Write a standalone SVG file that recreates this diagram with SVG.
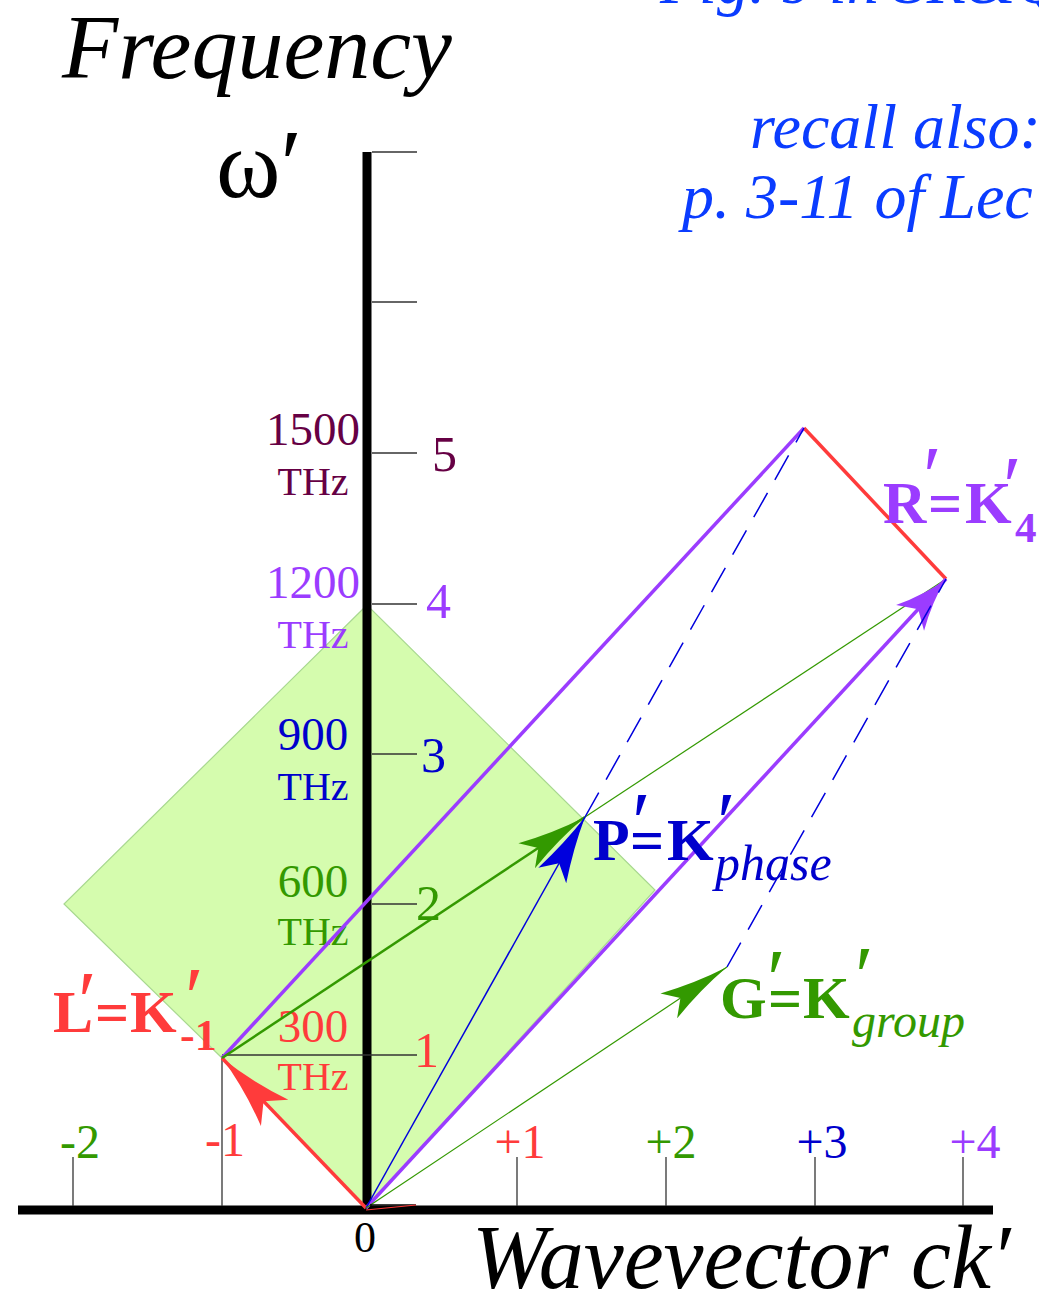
<svg xmlns="http://www.w3.org/2000/svg" width="1039" height="1298" viewBox="0 0 1039 1298">
<style>
text { font-family: "Liberation Serif", "Times New Roman", serif; }
.it { font-style: italic; }
.bd { font-weight: bold; }
.ref { fill: #0a3cff; font-style: italic; font-size: 64px; }
.tick { stroke: #333; stroke-width: 1.3; fill: none; }
.axis { stroke: #000; stroke-width: 9; fill: none; }
.num { font-size: 48px; text-anchor: middle; }
.thz1 { font-size: 47px; text-anchor: middle; }
.thz2 { font-size: 40px; text-anchor: middle; }
.big { font-size: 60px; font-weight: bold; }
.pr { font-size: 85px; font-style: italic; font-weight: normal; text-anchor: middle; }
.sub { font-style: italic; font-weight: normal; }
.c-maroon { fill: #660044; }
.c-purple { fill: #9b3cff; }
.c-blue { fill: #0000cc; }
.c-green { fill: #339900; }
.c-red { fill: #ff3b3b; }
.ln-purple { stroke: #9b3cff; stroke-width: 3.5; fill: none; }
.ln-red { stroke: #ff3b3b; stroke-width: 3.5; fill: none; }
.ln-green { stroke: #339900; fill: none; }
.ln-blue { stroke: #0000dd; fill: none; }
.dash { stroke: #0000dd; stroke-width: 1.5; stroke-dasharray: 28 15; fill: none; }
</style>
<defs>
<marker id="ah-purple" markerUnits="userSpaceOnUse" orient="auto" refX="0" refY="0" viewBox="-56 -21 58 42" markerWidth="58" markerHeight="42">
<path d="M0,0 Q-26,-5 -53,-19 L-41,0 L-53,19 Q-26,5 0,0 Z" fill="#9b3cff"/>
</marker>
<marker id="ah-green" markerUnits="userSpaceOnUse" orient="auto" refX="0" refY="0" viewBox="-72 -17 74 34" markerWidth="74" markerHeight="34">
<path d="M0,0 Q-35,-4 -70,-15 L-56,0 L-70,15 Q-35,4 0,0 Z" fill="#339900"/>
</marker>
<marker id="ah-blue" markerUnits="userSpaceOnUse" orient="auto" refX="0" refY="0" viewBox="-70 -18 72 36" markerWidth="72" markerHeight="36">
<path d="M0,0 Q-33,-5 -67,-16 L-53,0 L-67,16 Q-33,5 0,0 Z" fill="#0000dd"/>
</marker>
<marker id="ah-red" markerUnits="userSpaceOnUse" orient="auto" refX="0" refY="0" viewBox="-78 -21 80 42" markerWidth="80" markerHeight="42">
<path d="M0,0 Q-38,-5 -76,-19 L-60,0 L-76,19 Q-38,5 0,0 Z" fill="#ff3b3b"/>
</marker>
</defs>

<g id="reference-note">
<text class="ref" x="660" y="3">Fig. 9 in SR&amp;Q</text>
<text class="ref" x="750" y="148">recall also:</text>
<text class="ref" x="682" y="218">p. 3-11 of Lec</text>
</g>

<g id="region">
<polygon points="367,605 64,904 222,1058 366,1208 655,890" fill="#d5fcae" stroke="#a8d890" stroke-width="1.2"/>
</g>

<g id="axes">
<line class="axis" x1="367" y1="152" x2="367" y2="1214"/>
<line class="axis" x1="18" y1="1210" x2="993" y2="1210"/>
<g id="y-ticks">
<line class="tick" x1="372" y1="152" x2="417" y2="152"/>
<line class="tick" x1="372" y1="302" x2="417" y2="302"/>
<line class="tick" x1="372" y1="453" x2="417" y2="453"/>
<line class="tick" x1="372" y1="604" x2="417" y2="604"/>
<line class="tick" x1="372" y1="754" x2="417" y2="754"/>
<line class="tick" x1="372" y1="904" x2="417" y2="904"/>
<line class="tick" x1="222" y1="1055" x2="417" y2="1055"/>
</g>
<g id="x-ticks">
<line class="tick" x1="73" y1="1157" x2="73" y2="1206"/>
<line class="tick" x1="222" y1="1058" x2="222" y2="1206"/>
<line class="tick" x1="517" y1="1157" x2="517" y2="1206"/>
<line class="tick" x1="666" y1="1157" x2="666" y2="1206"/>
<line class="tick" x1="815" y1="1157" x2="815" y2="1206"/>
<line class="tick" x1="963" y1="1157" x2="963" y2="1206"/>
</g>
</g>

<g id="axis-titles">
<text class="it" x="62" y="78" font-size="92">Frequency</text>
<text x="216" y="197" font-size="98">ω<tspan font-style="italic" dx="-6">′</tspan></text>
<text class="it" x="472" y="1288" font-size="90">Wavevector ck′</text>
</g>

<g id="y-labels">
<text class="thz1 c-maroon" x="313" y="445">1500</text>
<text class="thz2 c-maroon" x="313" y="495">THz</text>
<text class="thz1 c-purple" x="313" y="598">1200</text>
<text class="thz2 c-purple" x="313" y="648">THz</text>
<text class="thz1 c-blue" x="313" y="750">900</text>
<text class="thz2 c-blue" x="313" y="800">THz</text>
<text class="thz1 c-green" x="313" y="897">600</text>
<text class="thz2 c-green" x="313" y="945">THz</text>
<text class="thz1 c-red" x="313" y="1042">300</text>
<text class="thz2 c-red" x="313" y="1090">THz</text>
<text class="c-maroon" x="432" y="471" font-size="50">5</text>
<text class="c-purple" x="426" y="618" font-size="50">4</text>
<text class="c-blue" x="421" y="772" font-size="50">3</text>
<text class="c-green" x="416" y="920" font-size="50">2</text>
<text class="c-red" x="414" y="1067" font-size="50">1</text>
</g>

<g id="x-labels">
<text class="num c-green" x="80" y="1158">-2</text>
<text class="num c-red" x="225" y="1156">-1</text>
<text class="num c-red" x="520" y="1158">+1</text>
<text class="num c-green" x="671" y="1158">+2</text>
<text class="num c-blue" x="822" y="1158">+3</text>
<text class="num c-purple" x="975" y="1158">+4</text>
<text x="365" y="1252" font-size="44" text-anchor="middle">0</text>
</g>

<g id="connectors">
<line class="ln-purple" x1="222" y1="1058" x2="804" y2="428"/>
<line class="ln-red" x1="804" y1="428" x2="946" y2="579"/>
<line class="ln-green" stroke-width="1.2" x1="585" y1="817" x2="946" y2="579"/>
<line class="ln-purple" x1="366" y1="1208" x2="946" y2="579" marker-end="url(#ah-purple)"/>
<line class="dash" x1="585" y1="817" x2="804" y2="428"/>
<line class="dash" x1="727" y1="967" x2="946" y2="579"/>
<line class="ln-red" x1="366" y1="1208" x2="222" y2="1058" marker-end="url(#ah-red)"/>
<line class="ln-green" stroke-width="2.5" x1="222" y1="1058" x2="585" y2="817" marker-end="url(#ah-green)"/>
<line class="ln-blue" stroke-width="1.5" x1="366" y1="1208" x2="585" y2="817" marker-end="url(#ah-blue)"/>
<line class="ln-green" stroke-width="1.2" x1="366" y1="1208" x2="727" y2="967" marker-end="url(#ah-green)"/>
<line stroke="#000" stroke-width="1.5" x1="370" y1="1205" x2="416" y2="1205"/>
<line stroke="#ff3b3b" stroke-width="1.2" x1="366" y1="1210" x2="416" y2="1205"/>
</g>

<g id="node-R">
<text class="big c-purple"><tspan x="883" y="523">R</tspan><tspan class="pr" x="927" y="505">′</tspan><tspan x="928" y="523">=</tspan><tspan x="965" y="523">K</tspan><tspan class="pr" x="1007" y="515">′</tspan><tspan x="1015" y="542" font-size="43">4</tspan></text>
</g>

<g id="node-P">
<text class="big c-blue"><tspan x="593" y="860">P</tspan><tspan class="pr" x="636" y="851">′</tspan><tspan x="630" y="860">=</tspan><tspan x="667" y="860">K</tspan><tspan class="pr" x="721" y="851">′</tspan><tspan class="sub" x="715" y="880" font-size="50">phase</tspan></text>
</g>

<g id="node-G">
<text class="big c-green"><tspan x="720" y="1018">G</tspan><tspan class="pr" x="771" y="1008">′</tspan><tspan x="768" y="1018">=</tspan><tspan x="803" y="1018">K</tspan><tspan class="pr" x="859" y="1005">′</tspan><tspan class="sub" x="852" y="1037" font-size="48">group</tspan></text>
</g>

<g id="node-L">
<text class="big c-red"><tspan x="53" y="1032">L</tspan><tspan class="pr" x="82" y="1030">′</tspan><tspan x="95" y="1032">=</tspan><tspan x="130" y="1032">K</tspan><tspan class="pr" x="189" y="1026">′</tspan><tspan x="180" y="1050" font-size="44">-1</tspan></text>
</g>
</svg>
